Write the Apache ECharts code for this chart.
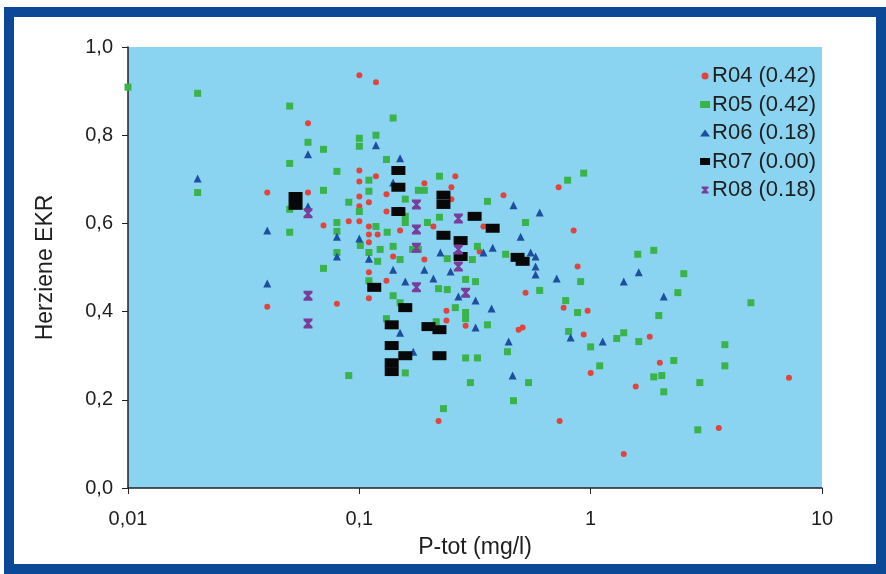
<!DOCTYPE html>
<html>
<head>
<meta charset="utf-8">
<title>Herziene EKR - P-tot</title>
<script src="https://cdn.jsdelivr.net/npm/echarts@6/dist/echarts.min.js"></script>
<style>
    body { margin: 0; background: #ffffff; }
    #frame { position: absolute; left: 4px; top: 7px; width: 882px; height: 567px; border: 10px solid #0b4896; box-sizing: border-box; }
    #chart { position: absolute; left: 0; top: 0; width: 886px; height: 574px; }
</style>
</head>
<body>
<div id="frame"></div>
<div id="chart"></div>
<script>
// P-tot (mg/l), Herziene EKR
var seriesNames = ["R04 (0.42)", "R05 (0.42)", "R06 (0.18)", "R07 (0.00)", "R08 (0.18)"];
var xTicks = [0.01, 0.1, 1, 10];
var yTicks = [0, 0.2, 0.4, 0.6, 0.8, 1.0];

var r04 = [
    [0.1, 0.936], [0.118, 0.920], [0.06, 0.827], [0.04, 0.670], [0.06, 0.670],
    [0.1, 0.720], [0.118, 0.707], [0.1, 0.695], [0.1, 0.661], [0.11, 0.648],
    [0.1, 0.639], [0.131, 0.666], [0.131, 0.627], [0.09, 0.605], [0.1, 0.605],
    [0.07, 0.595], [0.11, 0.593], [0.11, 0.575], [0.12, 0.575], [0.11, 0.557],
    [0.15, 0.584], [0.191, 0.691], [0.25, 0.682], [0.26, 0.707], [0.25, 0.655],
    [0.209, 0.593], [0.14, 0.525], [0.191, 0.518], [0.11, 0.489], [0.131, 0.470],
    [0.08, 0.418], [0.11, 0.430], [0.238, 0.402], [0.238, 0.380], [0.288, 0.368],
    [0.04, 0.411], [0.22, 0.152], [0.42, 0.664], [0.727, 0.682], [0.844, 0.584],
    [0.344, 0.593], [0.331, 0.536], [0.878, 0.502], [0.523, 0.443], [0.488, 0.359],
    [0.508, 0.364], [0.764, 0.409], [0.97, 0.402], [0.933, 0.348], [1.0, 0.261],
    [0.734, 0.152], [1.8, 0.343], [1.99, 0.284], [1.566, 0.230], [1.39, 0.077],
    [3.58, 0.136], [7.2, 0.250]
];
var r05 = [
    [0.01, 0.909], [0.02, 0.895], [0.05, 0.866], [0.06, 0.784], [0.07, 0.768],
    [0.05, 0.736], [0.08, 0.718], [0.1, 0.793], [0.1, 0.775], [0.118, 0.800],
    [0.14, 0.839], [0.131, 0.745], [0.02, 0.670], [0.07, 0.675], [0.05, 0.632],
    [0.05, 0.580], [0.11, 0.698], [0.11, 0.673], [0.09, 0.648], [0.1, 0.627],
    [0.08, 0.602], [0.08, 0.582], [0.222, 0.707], [0.18, 0.675], [0.191, 0.675],
    [0.158, 0.655], [0.158, 0.616], [0.158, 0.602], [0.222, 0.614], [0.118, 0.593],
    [0.132, 0.580], [0.101, 0.550], [0.123, 0.541], [0.14, 0.548], [0.11, 0.534],
    [0.12, 0.514], [0.15, 0.518], [0.07, 0.498], [0.08, 0.534], [0.17, 0.541],
    [0.18, 0.541], [0.197, 0.602], [0.24, 0.520], [0.22, 0.452], [0.24, 0.450],
    [0.26, 0.409], [0.11, 0.470], [0.14, 0.436], [0.15, 0.420], [0.131, 0.384],
    [0.215, 0.377], [0.158, 0.261], [0.09, 0.255], [0.231, 0.180], [0.288, 0.473],
    [0.318, 0.468], [0.288, 0.398], [0.288, 0.384], [0.288, 0.295], [0.324, 0.295],
    [0.302, 0.239], [0.308, 0.518], [0.358, 0.370], [0.602, 0.448], [0.437, 0.309],
    [0.539, 0.239], [0.464, 0.198], [0.78, 0.425], [0.878, 0.398], [0.803, 0.355],
    [1.0, 0.320], [1.094, 0.277], [0.905, 0.468], [0.933, 0.714], [0.795, 0.698],
    [0.358, 0.650], [0.523, 0.602], [0.429, 0.530], [0.324, 0.548], [1.598, 0.530],
    [1.874, 0.539], [2.527, 0.486], [2.381, 0.443], [1.97, 0.391], [1.296, 0.339],
    [1.39, 0.352], [1.614, 0.332], [2.287, 0.289], [1.874, 0.252], [2.03, 0.255],
    [2.07, 0.218], [2.964, 0.239], [2.905, 0.132], [3.803, 0.325], [3.803, 0.277],
    [4.928, 0.420]
];
var r06 = [
    [0.02, 0.702], [0.06, 0.757], [0.118, 0.777], [0.15, 0.748], [0.04, 0.584],
    [0.06, 0.639], [0.08, 0.570], [0.1, 0.566], [0.14, 0.693], [0.04, 0.464],
    [0.08, 0.525], [0.11, 0.520], [0.14, 0.495], [0.158, 0.468], [0.191, 0.495],
    [0.209, 0.475], [0.224, 0.534], [0.248, 0.491], [0.318, 0.425], [0.15, 0.352],
    [0.171, 0.309], [0.268, 0.434], [0.464, 0.641], [0.602, 0.625], [0.498, 0.570],
    [0.377, 0.545], [0.344, 0.534], [0.55, 0.534], [0.578, 0.525], [0.578, 0.502],
    [0.578, 0.484], [0.713, 0.475], [0.373, 0.407], [0.318, 0.364], [0.442, 0.332],
    [0.46, 0.255], [0.819, 0.341], [1.127, 0.332], [1.39, 0.468], [1.614, 0.489],
    [2.07, 0.434]
];
var r07 = [
    [0.053, 0.661], [0.053, 0.641], [0.1475, 0.720], [0.1475, 0.682], [0.1475, 0.627],
    [0.231, 0.664], [0.231, 0.643], [0.315, 0.616], [0.231, 0.573], [0.274, 0.561],
    [0.274, 0.525], [0.116, 0.455], [0.158, 0.409], [0.138, 0.370], [0.199, 0.366],
    [0.222, 0.359], [0.138, 0.323], [0.158, 0.300], [0.222, 0.300], [0.138, 0.284],
    [0.138, 0.264], [0.377, 0.589], [0.483, 0.523], [0.508, 0.514]
];
var r08 = [
    [0.06, 0.623], [0.1765, 0.643], [0.268, 0.611], [0.1765, 0.586], [0.1765, 0.545],
    [0.268, 0.541], [0.06, 0.436], [0.06, 0.373], [0.1765, 0.455], [0.268, 0.502],
    [0.288, 0.443]
];

var hourglass = 'path://M0,0L10,0L10,2L6.5,5L10,8L10,10L0,10L0,8L3.5,5L0,2Z';

function commaFormat(value) {
    if (value < 1 && value > 0) {
        return String(value).replace('.', ',');
    }
    return String(value);
}

function makeSeries(name, data, symbol, size, color) {
    return {
        name: name,
        type: 'scatter',
        data: data,
        symbol: symbol,
        symbolSize: size,
        itemStyle: { color: color, opacity: 1 },
        emphasis: { disabled: true }
    };
}

var chart = echarts.init(document.getElementById('chart'));
var textColor = '#1e1e1e';
var fontFamily = '"Liberation Sans", Arial, sans-serif';

var option = {
    animation: false,
    backgroundColor: 'transparent',
    textStyle: { fontFamily: fontFamily },
    grid: {
        left: 128,
        right: 64,
        top: 47,
        bottom: 86,
        show: true,
        backgroundColor: '#8ad4f2',
        borderWidth: 0
    },
    legend: {
        orient: 'vertical',
        right: 70,
        top: 65,
        padding: 0,
        itemGap: 6.5,
        itemWidth: 10,
        itemHeight: 7,
        textStyle: { fontSize: 22, color: textColor, fontFamily: fontFamily, padding: [0, 0, 0, -3] },
        data: seriesNames
    },
    xAxis: {
        type: 'log',
        logBase: 10,
        min: xTicks[0],
        max: xTicks[xTicks.length - 1],
        name: 'P-tot (mg/l)',
        nameLocation: 'middle',
        nameGap: 48,
        nameTextStyle: { fontSize: 23, color: textColor },
        axisLine: { lineStyle: { color: '#222', width: 1.5 } },
        axisTick: { show: true, inside: false, length: 6, lineStyle: { color: '#222' } },
        minorTick: { show: false },
        axisLabel: { fontSize: 20, color: textColor, margin: 21, formatter: commaFormat },
        splitLine: { show: false }
    },
    yAxis: {
        type: 'value',
        min: yTicks[0],
        max: yTicks[yTicks.length - 1],
        interval: 0.2,
        name: 'Herziene EKR',
        nameLocation: 'middle',
        nameGap: 71,
        nameTextStyle: { fontSize: 23, color: textColor },
        axisLine: { show: true, lineStyle: { color: '#222', width: 1.5 } },
        axisTick: { show: true, inside: false, length: 6, lineStyle: { color: '#222' } },
        axisLabel: {
            fontSize: 20, color: textColor, margin: 15,
            formatter: function (v) { return v.toFixed(1).replace('.', ','); }
        },
        splitLine: { show: false }
    },
    series: [
        makeSeries(seriesNames[0], r04, 'circle', 6, '#e0443c'),
        makeSeries(seriesNames[1], r05, 'rect', 7, '#3bb34b'),
        makeSeries(seriesNames[2], r06, 'triangle', 8, '#1d4f9e'),
        makeSeries(seriesNames[3], r07, 'rect', [14, 9], '#080808'),
        makeSeries(seriesNames[4], r08, hourglass, [9, 10], '#7a3d9a')
    ]
};
chart.setOption(option);
</script>
</body>
</html>
